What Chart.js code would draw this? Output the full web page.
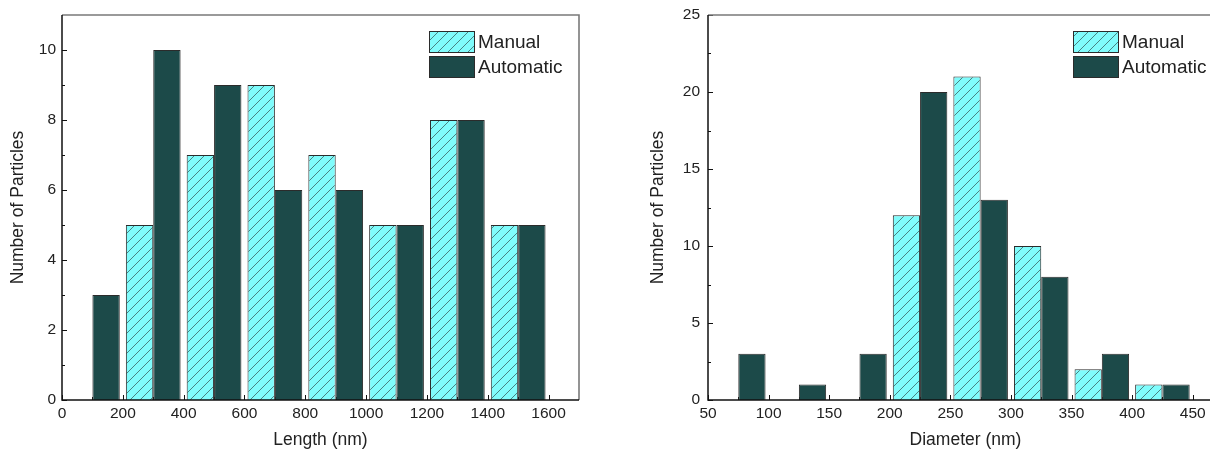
<!DOCTYPE html>
<html>
<head>
<meta charset="utf-8">
<script src="https://cdn.jsdelivr.net/npm/chart.js@4.4.1/dist/chart.umd.min.js"></script>
<style>
  html, body { margin: 0; padding: 0; background: #fff; overflow: hidden; width: 1210px; height: 449px; }
  .box { position: absolute; top: 0; height: 449px; }
  #boxL { left: 0; width: 600px; }
  #boxR { left: 640px; width: 600px; }
</style>
</head>
<body>
<div class="box" id="boxL"><canvas id="chartL"></canvas></div>
<div class="box" id="boxR"><canvas id="chartR"></canvas></div>
<script>
// ---------- DATA ----------
const seriesNames = ['Manual', 'Automatic'];

const lengthBinCenters = [100, 300, 500, 700, 900, 1100, 1300, 1500];
const lengthManual     = [0, 5, 7, 9, 7, 5, 8, 5];
const lengthAutomatic  = [3, 10, 9, 6, 6, 5, 8, 5];
const lengthXTicks     = [0, 200, 400, 600, 800, 1000, 1200, 1400, 1600];
const lengthXMinor     = [100, 300, 500, 700, 900, 1100, 1300, 1500];
const lengthYTicks     = [0, 2, 4, 6, 8, 10];
const lengthYMinor     = [1, 3, 5, 7, 9];

const diameterBinCenters = [75, 125, 175, 225, 275, 325, 375, 425];
const diameterManual     = [0, 0, 0, 12, 21, 10, 2, 1];
const diameterAutomatic  = [3, 1, 3, 20, 13, 8, 3, 1];
const diameterXTicks     = [50, 100, 150, 200, 250, 300, 350, 400, 450];
const diameterXMinor     = [75, 125, 175, 225, 275, 325, 375, 425];
const diameterYTicks     = [0, 5, 10, 15, 20, 25];
const diameterYMinor     = [2.5, 7.5, 12.5, 17.5, 22.5];

// ---------- STYLE ----------
const FONT = "'Liberation Sans', Arial, sans-serif";
const TEXT = '#222';
const CYAN = '#80fcfc';
const DARK = '#1c4a49';
const EDGE = '#2b2b2b';

function hatchPattern() {
  const s = 10;
  const c = document.createElement('canvas');
  c.width = s; c.height = s;
  const g = c.getContext('2d');
  g.fillStyle = CYAN;
  g.fillRect(0, 0, s, s);
  g.strokeStyle = '#3b6262';
  g.lineWidth = 0.8;
  g.beginPath();
  g.moveTo(-1, s + 1); g.lineTo(s + 1, -1);
  g.moveTo(-1, 1); g.lineTo(1, -1);
  g.moveTo(s - 1, s + 1); g.lineTo(s + 1, s - 1);
  g.stroke();
  return g.createPattern(c, 'repeat');
}
const HATCH = hatchPattern();

const frameTicks = {
  id: 'frameTicks',
  beforeDatasetsDraw(chart, args, o) {
    const ctx = chart.ctx, a = chart.chartArea;
    const xs = chart.scales.x, ys = chart.scales.y;
    ctx.save();
    ctx.strokeStyle = '#111';
    ctx.lineWidth = 1;
    ctx.beginPath();
    o.yMajor.forEach(v => { const y = Math.round(ys.getPixelForValue(v)) + 0.5; ctx.moveTo(a.left, y); ctx.lineTo(a.left + 5, y); });
    o.yMinor.forEach(v => { const y = Math.round(ys.getPixelForValue(v)) + 0.5; ctx.moveTo(a.left, y); ctx.lineTo(a.left + 3, y); });
    o.xMajor.forEach(v => { const x = Math.round(xs.getPixelForValue(v)) + 0.5; ctx.moveTo(x, a.bottom); ctx.lineTo(x, a.bottom - 5); });
    o.xMinor.forEach(v => { const x = Math.round(xs.getPixelForValue(v)) + 0.5; ctx.moveTo(x, a.bottom); ctx.lineTo(x, a.bottom - 3); });
    ctx.stroke();
    ctx.restore();
  },
  afterDraw(chart, args, o) {
    const ctx = chart.ctx, a = chart.chartArea;
    ctx.save();
    ctx.strokeStyle = '#7a7a7a';
    ctx.lineWidth = 1.6;
    ctx.beginPath();
    ctx.moveTo(a.left, a.top); ctx.lineTo(a.right, a.top); ctx.lineTo(a.right, a.bottom);
    ctx.stroke();
    ctx.strokeStyle = '#111';
    ctx.lineWidth = 1.5;
    ctx.beginPath();
    ctx.moveTo(a.left, a.top); ctx.lineTo(a.left, a.bottom); ctx.lineTo(a.right, a.bottom);
    ctx.stroke();
    // legend
    const sx = a.right - 150, sw = 45, sh = 21;
    const rows = [a.top + 16, a.top + 41];
    chart.data.datasets.forEach((ds, i) => {
      const y = rows[i];
      ctx.fillStyle = ds.backgroundColor;
      ctx.fillRect(sx, y, sw, sh);
      ctx.strokeStyle = EDGE;
      ctx.lineWidth = 1;
      ctx.strokeRect(sx + 0.5, y + 0.5, sw, sh);
      ctx.fillStyle = TEXT;
      ctx.font = '19px ' + FONT;
      ctx.textBaseline = 'middle';
      ctx.textAlign = 'left';
      ctx.fillText(ds.label, sx + sw + 4, y + sh / 2 + 1);
    });
    ctx.restore();
  }
};

function toPoints(xs, ys) { return xs.map((x, i) => ({ x: x, y: ys[i] })); }

function makeChart(id, cfg) {
  return new Chart(document.getElementById(id), {
    type: 'bar',
    data: {
      datasets: [
        { label: seriesNames[0], data: toPoints(cfg.centers, cfg.manual), backgroundColor: HATCH,
          borderColor: EDGE, borderWidth: c => (c.raw && c.raw.y > 0 ? 1 : 0) },
        { label: seriesNames[1], data: toPoints(cfg.centers, cfg.auto), backgroundColor: DARK,
          borderColor: EDGE, borderWidth: c => (c.raw && c.raw.y > 0 ? 1 : 0) }
      ]
    },
    options: {
      responsive: true,
      maintainAspectRatio: false,
      animation: false,
      events: [],
      layout: { padding: { left: 0, right: cfg.padRight, top: 15, bottom: 0 } },
      datasets: { bar: { categoryPercentage: 0.9, barPercentage: 1.0, grouped: true } },
      plugins: {
        legend: { display: false },
        tooltip: { enabled: false },
        frameTicks: { xMajor: cfg.xTicks, xMinor: cfg.xMinor, yMajor: cfg.yTicks, yMinor: cfg.yMinor }
      },
      scales: {
        x: {
          type: 'linear', min: cfg.xMin, max: cfg.xMax, offset: false,
          grid: { display: false, drawTicks: false },
          border: { display: false },
          afterBuildTicks: s => { s.ticks = cfg.xTicks.map(v => ({ value: v })); },
          afterFit: s => { s.height = 49; s.paddingLeft = 0; s.paddingRight = 0; },
          ticks: { font: { family: FONT, size: 15.5 }, color: TEXT, padding: 4, maxRotation: 0, autoSkip: false,
                   callback: v => String(v) },
          title: { display: true, text: cfg.xTitle, font: { family: FONT, size: 17.5, lineHeight: 1 }, color: TEXT, padding: { top: 0, bottom: 0 } }
        },
        y: {
          type: 'linear', min: 0, max: cfg.yMax,
          grid: { display: false, drawTicks: false },
          border: { display: false },
          afterBuildTicks: s => { s.ticks = cfg.yTicks.map(v => ({ value: v })); },
          afterFit: s => { s.width = cfg.yWidth; s.paddingTop = 0; s.paddingBottom = 0; },
          ticks: { font: { family: FONT, size: 15.5 }, color: TEXT, padding: cfg.yPad, callback: v => String(v) },
          title: { display: true, text: 'Number of Particles', font: { family: FONT, size: 17.5, lineHeight: 1 }, color: TEXT, padding: { top: 9.5, bottom: 0 } }
        }
      }
    },
    plugins: [frameTicks]
  });
}

makeChart('chartL', {
  centers: lengthBinCenters, manual: lengthManual, auto: lengthAutomatic,
  xTicks: lengthXTicks, xMinor: lengthXMinor, yTicks: lengthYTicks, yMinor: lengthYMinor,
  xMin: 0, xMax: 1700, yMax: 11, xTitle: 'Length (nm)', yWidth: 62, yPad: 6, padRight: 21
});
makeChart('chartR', {
  centers: diameterBinCenters, manual: diameterManual, auto: diameterAutomatic,
  xTicks: diameterXTicks, xMinor: diameterXMinor, yTicks: diameterYTicks, yMinor: diameterYMinor,
  xMin: 50, xMax: 475, yMax: 25, xTitle: 'Diameter (nm)', yWidth: 68, yPad: 8, padRight: 17
});
</script>
</body>
</html>
